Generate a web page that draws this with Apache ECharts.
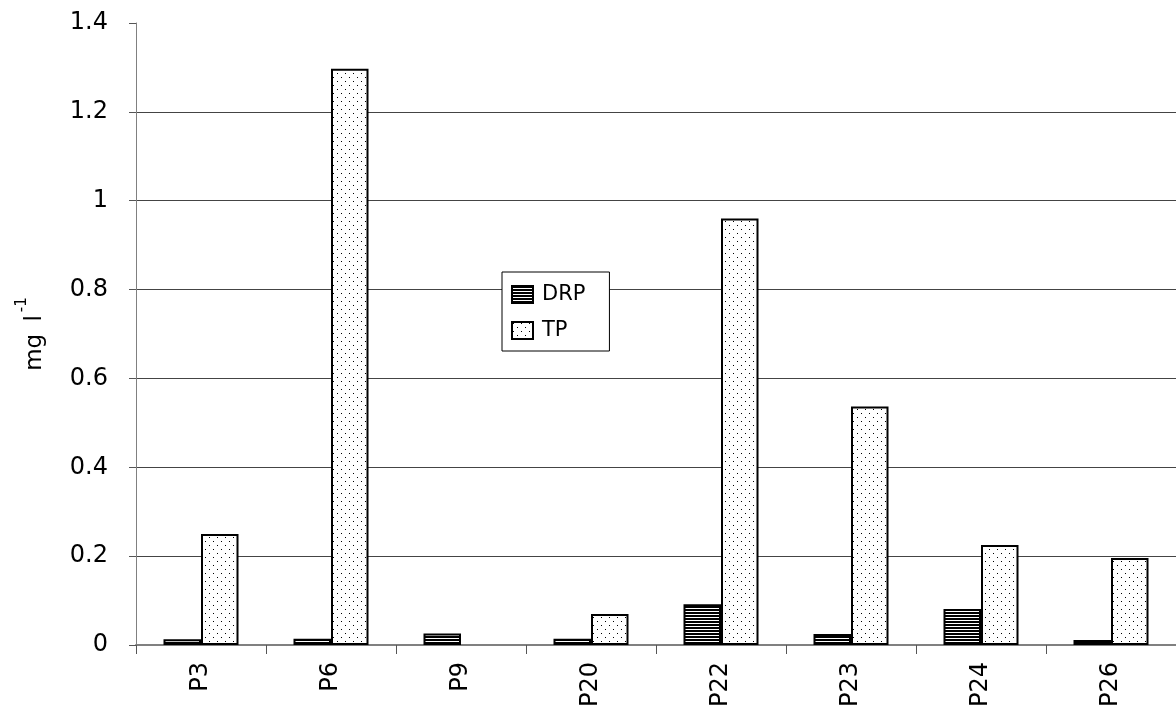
<!DOCTYPE html>
<html>
<head>
<meta charset="utf-8">
<script src="https://cdn.jsdelivr.net/npm/echarts@6/dist/echarts.min.js"></script>
<style>
  html, body { margin: 0; padding: 0; background: #fff; }
  #chart { width: 1176px; height: 717px; }
</style>
</head>
<body>
<div id="chart"></div>
<script>
// data
var sites = ['P3', 'P6', 'P9', 'P20', 'P22', 'P23', 'P24', 'P26'];
var drp = [0.013, 0.014, 0.026, 0.014, 0.092, 0.025, 0.081, 0.011];
var tp = [0.25, 1.297, null, 0.07, 0.96, 0.537, 0.225, 0.196];
var yTicks = [0, 0.2, 0.4, 0.6, 0.8, 1, 1.2, 1.4];

// horizontal stripes for DRP
function stripePattern() {
    var c = document.createElement('canvas');
    c.width = 4; c.height = 3;
    var ctx = c.getContext('2d');
    ctx.fillStyle = '#fff';
    ctx.fillRect(0, 0, 4, 3);
    ctx.fillStyle = '#000';
    ctx.fillRect(0, 0, 4, 2);
    return c;
}
// staggered dots for TP
function dotPattern() {
    var c = document.createElement('canvas');
    c.width = 8; c.height = 8;
    var ctx = c.getContext('2d');
    ctx.fillStyle = '#fff';
    ctx.fillRect(0, 0, 8, 8);
    ctx.fillStyle = '#000';
    ctx.fillRect(1, 1, 1, 1);
    ctx.fillRect(5, 5, 1, 1);
    return c;
}

var chart = echarts.init(document.getElementById('chart'));
var font = 'DejaVu Sans, Verdana, sans-serif';

var option = {
    backgroundColor: '#fff',
    animation: false,
    grid: {
        left: 136,
        top: 23,
        width: 1047,
        height: 622,
        containLabel: false
    },
    legend: {
        orient: 'vertical',
        left: 502,
        top: 272,
        padding: [12, 24, 10, 9],
        icon: 'rect',
        itemWidth: 21,
        itemHeight: 17,
        itemGap: 15,
        backgroundColor: '#fff',
        borderColor: '#000',
        borderWidth: 1,
        textStyle: { fontFamily: font, fontSize: 21, lineHeight: 17, color: '#000', padding: [0, 0, 0, 4] },
        data: ['DRP', 'TP']
    },
    xAxis: {
        type: 'category',
        data: sites,
        axisLine: { show: true, lineStyle: { color: '#808080', width: 2 } },
        axisTick: { show: true, length: 9, lineStyle: { color: '#555', width: 1 } },
        axisLabel: {
            rotate: 90,
            margin: 17,
            fontFamily: font,
            fontSize: 24,
            color: '#000'
        }
    },
    yAxis: {
        type: 'value',
        min: 0,
        max: 1.4,
        interval: 0.2,
        name: '{a|mg }{c|l}{b|-1}',
        nameLocation: 'middle',
        nameGap: 89,
        nameRotate: 90,
        nameTextStyle: {
            fontFamily: font,
            fontSize: 23,
            color: '#000',
            rich: {
                a: { fontFamily: font, fontSize: 23, color: '#000', lineHeight: 32, verticalAlign: 'bottom' },
                c: { fontFamily: font, fontSize: 23, color: '#000', lineHeight: 32, verticalAlign: 'bottom', padding: [0, 0, 0, 5] },
                b: { fontFamily: font, fontSize: 15, color: '#000', lineHeight: 32, verticalAlign: 'top', padding: [0, 0, 0, 3] }
            }
        },
        axisLine: { show: true, lineStyle: { color: '#808080', width: 1 } },
        axisTick: { show: true, length: 7, lineStyle: { color: '#555' } },
        axisLabel: {
            margin: 28,
            fontFamily: font,
            fontSize: 24,
            color: '#000',
            formatter: function (v) {
                return yTicks.indexOf(+v.toFixed(1)) >= 0 ? String(+v.toFixed(1)) : '';
            }
        },
        splitLine: { show: true, showMaxLine: false, lineStyle: { color: '#444', width: 1 } }
    },
    series: [
        {
            name: 'DRP',
            type: 'bar',
            data: drp,
            barWidth: 37.5,
            barGap: '0%',
            itemStyle: {
                color: { image: stripePattern(), repeat: 'repeat' },
                borderColor: '#000',
                borderWidth: 2
            }
        },
        {
            name: 'TP',
            type: 'bar',
            data: tp,
            barWidth: 37.5,
            barGap: '0%',
            itemStyle: {
                color: { image: dotPattern(), repeat: 'repeat' },
                borderColor: '#000',
                borderWidth: 2
            }
        }
    ]
};

chart.setOption(option);
</script>
</body>
</html>
